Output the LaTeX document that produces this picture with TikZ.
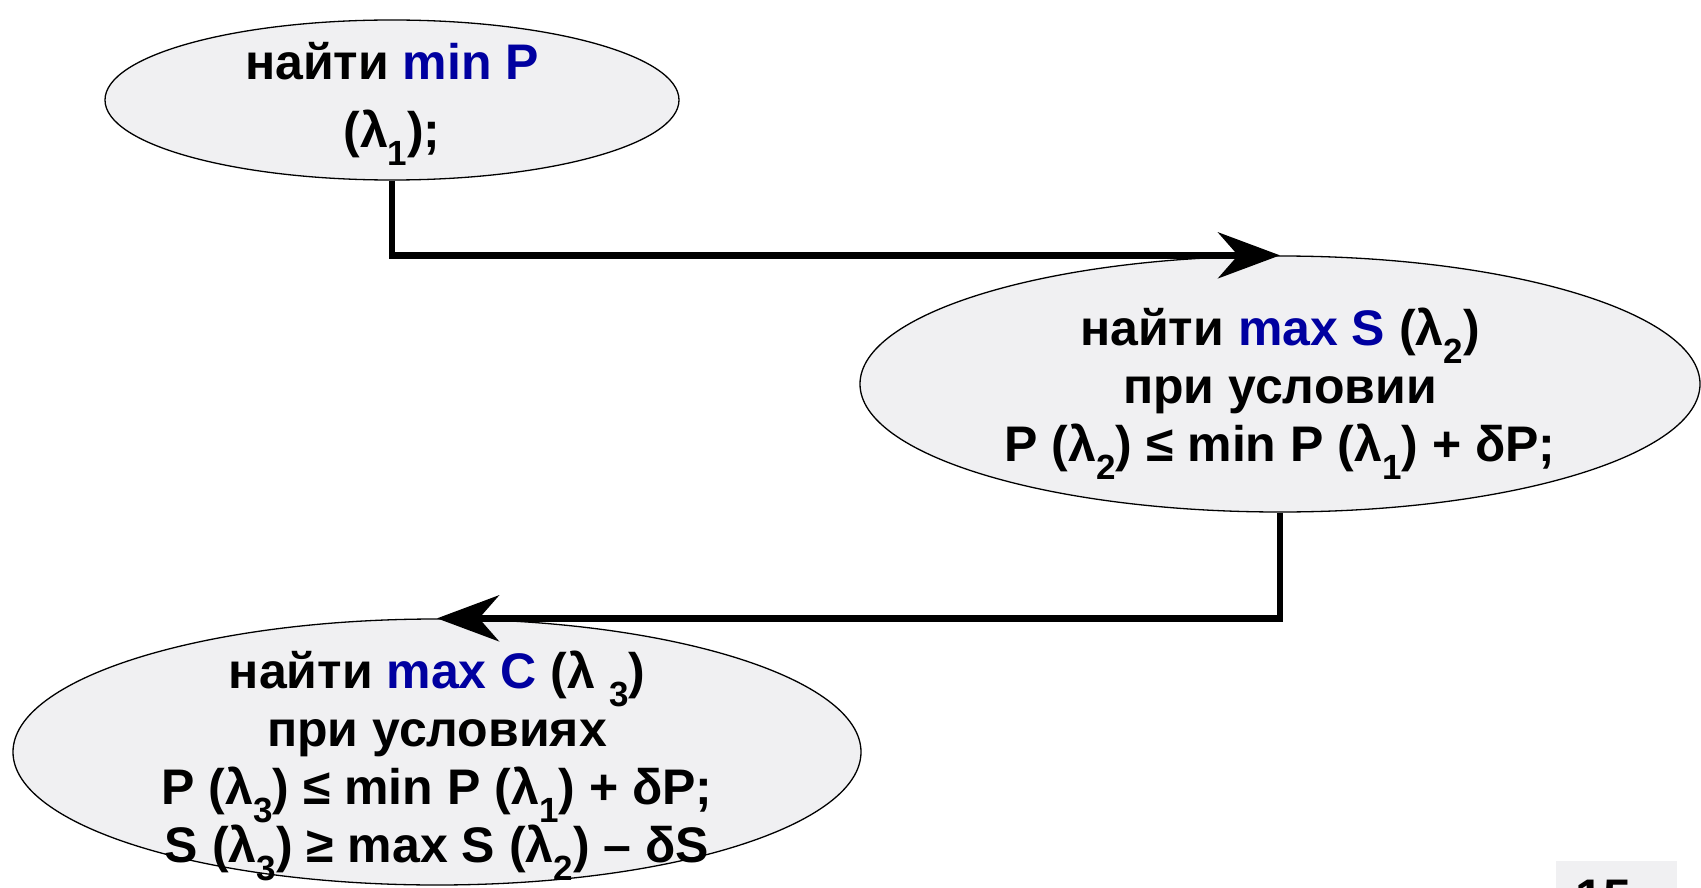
\documentclass[tikz,border=0pt]{standalone}
\usepackage{fontspec}
\setmainfont{Liberation Sans}
\usetikzlibrary{shapes.geometric,arrows.meta}
\definecolor{ellfill}{RGB}{240,240,242}
\definecolor{keyblue}{RGB}{0,0,160}
\newcommand\lsub[1]{\raisebox{-0.36em}{\fontsize{35}{35}\selectfont #1}}
\newcommand\kw[1]{\textcolor{keyblue}{#1}}
\tikzset{
  ell/.style={ellipse, draw=black, line width=1.3pt, fill=ellfill, inner sep=0pt},
  txt/.style={align=center, inner sep=0pt, font=\fontsize{50}{58}\selectfont\bfseries},
  conn/.style={line width=6.5pt, -{Stealth[length=62pt,width=46pt,inset=20pt]}},
}
\begin{document}
\begin{tikzpicture}[x=1pt,y=-1pt]
\useasboundingbox (0,0) rectangle (1701,888);
\node[ell, minimum width=574pt, minimum height=160pt] (e1) at (392,100) {};
\node[ell, minimum width=840pt, minimum height=256pt] (e2) at (1280,384) {};
\node[ell, minimum width=848pt, minimum height=266pt] (e3) at (437,752) {};
\node[txt] (t1) at (392,104) {найти \kw{min P}\\[10pt](λ\lsub{1});};
\node[txt] (t2) at (1280,394) {найти \kw{max S} (λ\lsub{2})\\при условии\\P (λ\lsub{2}) ≤ min P (λ\lsub{1}) + δP;};
\node[txt] (t3) at (437,766) {найти \kw{max C} (λ \lsub{3})\\при условиях\\P (λ\lsub{3}) ≤ min P (λ\lsub{1}) + δP;\\S (λ\lsub{3}) ≥ max S (λ\lsub{2}) – δS};
\draw[conn] (e1.south) |- (e2.north);
\draw[conn] (e2.south) |- (e3.north);
\fill[ellfill] (1556,861) rectangle (1677,900);
\node[txt, anchor=north] (pg) at (1603,880) {15};
\end{tikzpicture}
\end{document}
